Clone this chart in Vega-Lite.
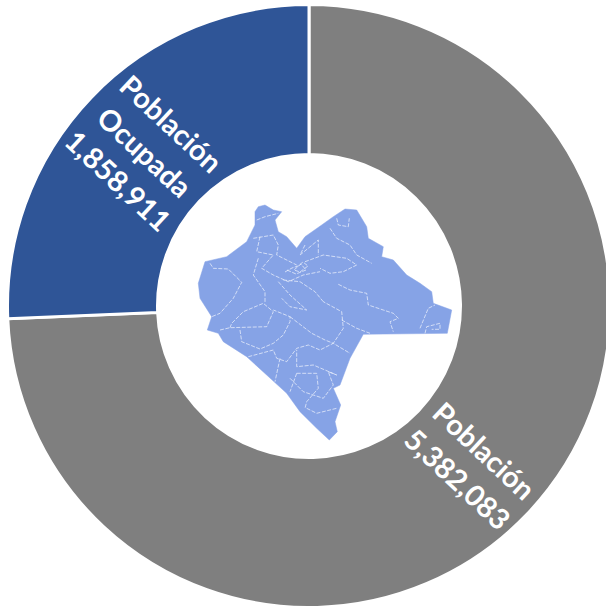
{
"$schema":"https://vega.github.io/schema/vega-lite/v6.json",
"width":606,"height":606,
"autosize":{"type":"none"},
"padding":0,
"background":"white",
"view":{"stroke":null},
"datasets":{
"slices":[
{"name":"Población","value":5382083,"k":1,"label":"Población|5,382,083"},
{"name":"Población Ocupada","value":1858911,"k":2,"label":"Población|Ocupada|1,858,911"}
],
"outline":[{"type":"Feature","properties":{"name":"Chiapas"},"geometry":{"type":"Polygon","coordinates":[[[258.3,206.7],[265,205],[273.3,210],[281.7,211.7],[275,220],[278.3,231.7],[286.7,236.7],[296.7,248.3],[305,236.7],[321.7,225],[333.3,216.7],[345,209],[356.7,210],[366.7,226.7],[368.3,238.3],[383.3,246.7],[381.7,256.7],[393.3,260],[406.7,275],[420,283.3],[431.7,291.7],[433.3,303.3],[451.7,310],[447.3,333.3],[363.3,334.3],[350,358.3],[340,385],[333.3,388.3],[340.7,405],[335,421.7],[337.3,431.7],[329.3,440],[316.7,428.3],[300,411.7],[286.7,393.3],[266.7,375],[246.7,356.7],[223.3,341.7],[218.3,333.3],[207.3,330],[211.7,316.7],[200,298.3],[198.3,283.3],[205,261.7],[226.7,256.7],[246.7,241.7],[255,225],[255,211.7],[258.3,206.7]]]}}],
"borders":[{"type":"Feature","properties":{"name":"municipios"},"geometry":{"type":"MultiLineString","coordinates":[
[[210,263.3],[213.3,268.3],[228.3,269],[241.7,282.3],[233.3,298.3],[220,313.3],[211.7,316.7]],
[[220,330],[230,327.7],[266.7,326.7],[273.3,311.7],[263.3,303.3],[243.3,311.7],[231.7,323.3],[230,327.7]],
[[240,330],[241.7,341.7],[260,349],[273.3,343.3],[283.3,335],[290,321.7],[290,316.7],[273.3,310]],
[[248.3,356.7],[273.3,350],[276.7,358.3],[286.7,361.7],[296.7,348.3],[308.3,345],[320,350],[333.3,343.3],[350,353.3]],
[[290,316.7],[311.7,333.3],[325,340],[333.3,343.3],[343.3,328.3],[341.7,311.7],[323.3,301.7]],
[[341.7,320],[356.7,328.3],[370,333.3]],
[[338.3,284.3],[350,290],[366.7,293.3],[368.3,305],[383.3,310],[393.3,313.3],[398.3,318.3],[390,321.7],[393.3,331.7]],
[[420,328.3],[428.3,308.3],[435,305]],
[[425,333.3],[426.7,326.7],[440,323.3],[440,329.3],[431.7,329.3]],
[[305,261.7],[323.3,255],[346.7,258.3],[356.7,265],[343.3,271.7],[330,273.3],[320,268.3]],
[[330,228.3],[336.7,238.3],[350,245],[356.7,255],[371.7,263.3]],
[[336.7,218.3],[338.3,225],[348.3,226.7],[349.3,218.3]],
[[256.7,220],[265,216.7],[278.3,213.3]],
[[253.3,238.3],[273.3,235],[278.3,245],[276.7,255],[296.7,265]],
[[258.3,258.3],[253.3,275],[265,291.7],[265,303.3]],
[[278.3,281.7],[290,295],[306.7,310],[290,306.7],[281.7,298.3]],
[[280,358.3],[275,381.7]],
[[296.7,373.3],[290,391.7]],
[[296.7,373.3],[316.7,373.3],[318.3,388.3],[306.7,401.7],[305,408.3]],
[[290,378.3],[303.3,391.7],[323.3,398.3],[333.3,385],[328.3,371.7],[336.7,375],[313.3,365],[296.7,366.7],[296.7,350]],
[[306.7,408.3],[316.7,413.3],[336.7,408.3]],
[[260,236.7],[256.7,251.7],[273.3,255],[261.7,268.3],[273.3,275],[288.3,281.7],[303.3,275],[320,271.7]],
[[305,245],[300,255],[318.3,240],[318.3,255]],
[[323.3,301.7],[315,291.7],[300,281.7],[283.3,280]],
[[285,272],[292,268],[298,266],[303,262],[308,266],[300,272],[294,270],[301,264],[306,270],[296,274],[287,270]]
]}}]
},
"layer":[
{"data":{"name":"slices"},
 "mark":{"type":"arc","outerRadius":301.5,"innerRadius":151.5,"stroke":"white","strokeWidth":3},
 "encoding":{
  "x":{"datum":309,"type":"quantitative","scale":{"domain":[0,606]},"axis":null},
  "y":{"datum":306,"type":"quantitative","scale":{"domain":[606,0]},"axis":null},
  "theta":{"field":"value","type":"quantitative","stack":true},
  "order":{"field":"k"},
  "color":{"field":"name","type":"nominal","legend":null,"scale":{"domain":["Población","Población Ocupada"],"range":["#7f7f7f","#2f5597"]}}
 }},
{"data":{"name":"outline"},
 "mark":{"type":"geoshape","fill":"#86a3e6","stroke":"#86a3e6","strokeWidth":0.5},
 "projection":{"type":"identity","scale":1,"translate":[0,0]}},
{"data":{"name":"borders"},
 "mark":{"type":"geoshape","filled":false,"fill":null,"stroke":"white","strokeWidth":0.9,"strokeOpacity":0.7,"strokeDash":[4,1.5]},
 "projection":{"type":"identity","scale":1,"translate":[0,0]}},
{"data":{"name":"slices"},
 "transform":[{"filter":"datum.k === 1"}],
 "mark":{"type":"text","angle":43,"color":"white","font":"Lato","fontWeight":"bold","fontSize":29,"lineBreak":"|","lineHeight":39,"align":"center","baseline":"middle"},
 "encoding":{
  "x":{"datum":483,"type":"quantitative","scale":{"domain":[0,606]},"axis":null},
  "y":{"datum":452,"type":"quantitative","scale":{"domain":[606,0]},"axis":null},
  "text":{"field":"label"}
 }},
{"data":{"name":"slices"},
 "transform":[{"filter":"datum.k === 2"}],
 "mark":{"type":"text","angle":43,"color":"white","font":"Lato","fontWeight":"bold","fontSize":29,"lineBreak":"|","lineHeight":39,"align":"center","baseline":"middle"},
 "encoding":{
  "x":{"datum":170,"type":"quantitative","scale":{"domain":[0,606]},"axis":null},
  "y":{"datum":125,"type":"quantitative","scale":{"domain":[606,0]},"axis":null},
  "text":{"field":"label"}
 }}
]
}
